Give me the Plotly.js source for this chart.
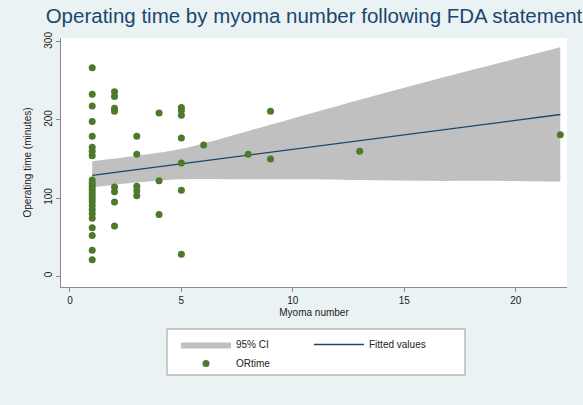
<!DOCTYPE html>
<html>
<head>
<meta charset="utf-8">
<script src="https://cdn.plot.ly/plotly-3.0.1.min.js"></script>
<style>html,body{margin:0;padding:0;background:#eaf2f3;}#chart{width:583px;height:405px;}</style>
</head>
<body>
<div id="chart"></div>
<script>
// Scatter data: myoma number vs operating time (minutes)
const myomaNumber = [
  1,1,1,1,1,1,1,1,1,1,1,1,1,1,1,1,1,1,1,1,1,1,1,1,
  2,2,2,2,2,2,2,2,
  3,3,3,3,3,
  4,4,4,
  5,5,5,5,5,5,5,
  6, 8, 9, 9, 13, 22
];
const orTime = [
  267,233,218,198,179,165,160,154,123,119,115,111,107,103,99,95,90,85,80,74,62,52,33,21,
  236,230,215,211,114,108,95,64,
  179,156,115,109,103,
  209,122,79,
  216,212,206,177,145,110,28,
  168, 156, 211, 150, 160, 181
];
// Fitted values (linear fit)
const fitX = [1, 22];
const fitY = [129, 207];
// 95% confidence band
const ciX  = [1, 3, 5, 8, 10, 13, 16, 19, 22];
const ciHi = [147, 154, 163, 186, 202, 226, 249, 271, 293];
const ciLo = [114, 120, 124, 124, 124, 123, 122, 122, 121];
// Axis ticks
const xTicks = [0, 5, 10, 15, 20];
const yTicks = [0, 100, 200, 300];

const FONT = 'Liberation Sans, Arial, Helvetica, sans-serif';
const W = 583, H = 405;
const M = {l: 61, r: 16, t: 38, b: 118};
const pw = W - M.l - M.r, ph = H - M.t - M.b;
const px = v => (v - M.l) / pw;
const py = v => (H - M.b - v) / ph;

const traces = [
  {x: ciX, y: ciLo, type: 'scatter', mode: 'lines', line: {width: 0, color: '#c0c0c0', shape: 'spline', smoothing: 1},
   showlegend: false, hoverinfo: 'skip'},
  {x: ciX, y: ciHi, type: 'scatter', mode: 'lines', line: {width: 0, color: '#c0c0c0', shape: 'spline', smoothing: 1},
   fill: 'tonexty', fillcolor: '#c0c0c0', name: '95% CI', legend: 'legend'},
  {x: fitX, y: fitY, type: 'scatter', mode: 'lines', line: {width: 1.3, color: '#1a476f'},
   name: 'Fitted values', legend: 'legend'},
  {x: myomaNumber, y: orTime, type: 'scatter', mode: 'markers',
   marker: {size: 7, color: '#4c7a2a'}, name: 'ORtime', legend: 'legend2'}
];

const legBase = {
  orientation: 'h', xref: 'container', yref: 'container', xanchor: 'left', yanchor: 'top',
  itemwidth: 50, entrywidth: 68, bgcolor: 'rgba(0,0,0,0)', borderwidth: 0,
  font: {family: FONT, size: 10, color: '#222'}, traceorder: 'normal'
};

const layout = {
  width: W, height: H,
  margin: M,
  paper_bgcolor: '#eaf2f3',
  plot_bgcolor: '#ffffff',
  font: {family: FONT, size: 10, color: '#222'},
  title: {text: 'Operating time by myoma number following FDA statement',
          font: {family: FONT, size: 20.5, color: '#1a476f'},
          x: 314 / W, xanchor: 'center', y: 1 - 16 / H, yanchor: 'middle'},
  xaxis: {
    range: [-0.4, 22.3], tickvals: xTicks, ticktext: xTicks.map(String),
    showline: true, linecolor: '#8a8a8a', linewidth: 1, mirror: false,
    ticks: 'outside', ticklen: 4, tickcolor: '#8a8a8a', showgrid: false, zeroline: false,
    tickfont: {size: 10, color: '#222'},
    title: {text: 'Myoma number', font: {size: 10, color: '#222'}, standoff: 3}
  },
  yaxis: {
    range: [-14, 305], tickvals: yTicks, ticktext: yTicks.map(String), tickangle: -90,
    showline: true, linecolor: '#8a8a8a', linewidth: 1, mirror: false,
    ticks: 'outside', ticklen: 4, tickcolor: '#8a8a8a', showgrid: false, zeroline: false,
    tickfont: {size: 10, color: '#222'},
    title: {text: 'Operating time (minutes)', font: {size: 10, color: '#222'}, standoff: 9}
  },
  showlegend: true,
  legend: Object.assign({}, legBase, {x: 176 / W, y: 1 - 330 / H}),
  legend2: Object.assign({}, legBase, {x: 176 / W, y: 1 - 349 / H}),
  shapes: [
    {type: 'rect', xref: 'paper', yref: 'paper', x0: px(167), x1: px(465), y0: py(375), y1: py(329),
     fillcolor: '#ffffff', line: {color: '#9a9a9a', width: 1}, layer: 'above'}
  ]
};

Plotly.newPlot('chart', traces, layout, {staticPlot: true, displayModeBar: false});
</script>
</body>
</html>
